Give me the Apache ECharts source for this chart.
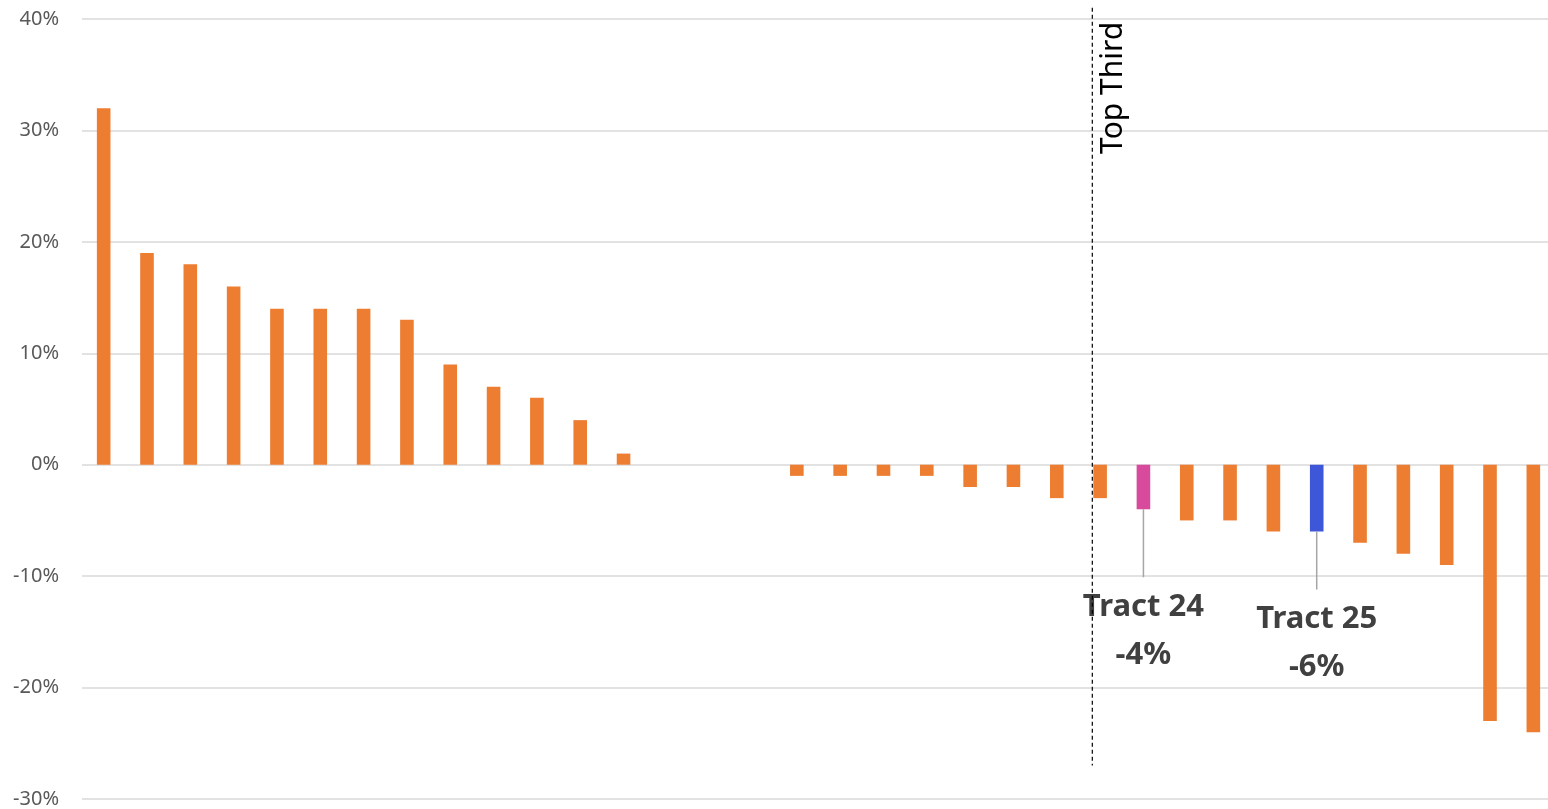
<!DOCTYPE html>
<html>
<head>
<meta charset="utf-8">
<script src="https://cdn.jsdelivr.net/npm/echarts@6/dist/echarts.min.js"></script>
<style>
  html, body { margin: 0; padding: 0; background: #ffffff; overflow: hidden; }
  #chart { width: 1555px; height: 809px; }
</style>
</head>
<body>
<div id="chart"></div>
<script>
// Change by tract, sorted from largest gain to largest loss
const categories = ['1','2','3','4','5','6','7','8','9','10','11','12','13','14','15','16','17',
  '18','19','20','21','22','23','24','25','26','27','28','29','30','31','32','33','34'];
const values = [32, 19, 18, 16, 14, 14, 14, 13, 9, 7, 6, 4, 1, null, null, null,
  -1, -1, -1, -1, -2, -2, -3, -3, -4, -5, -5, -6, -6, -7, -8, -9, -23, -24];

// Highlighted tracts: position in the ranking, name, colour, callout end (%)
const calloutIndex = [24, 28];
const calloutNames = ['Tract 24', 'Tract 25'];
const calloutColors = ['#D84A9C', '#3D57D8'];
const calloutEnds = [-10.1, -11.2];

// Cut-off line for the top third, in category units, and its extent (%)
const cutoffPos = 22.82;
const cutoffTop = 41;
const cutoffBottom = -27;
const cutoffLabel = 'Top Third';

const yTicks = { min: -30, max: 40, interval: 10 };

const barColor = '#ED7D31';
const font = '"Noto Sans", "Open Sans", sans-serif';

const barData = values.map((v, i) => {
  const k = calloutIndex.indexOf(i);
  return k >= 0 ? { value: v, itemStyle: { color: calloutColors[k] } } : v;
});

const connectorSeries = calloutIndex.map((idx, k) => ({
  type: 'line',
  xAxisIndex: 1,
  data: [[idx, values[idx]], [idx, calloutEnds[k]]],
  symbol: 'none',
  lineStyle: { color: '#A6A6A6', width: 1.5 },
  silent: true,
  z: 3
}));

const calloutLabels = {
  type: 'scatter',
  xAxisIndex: 1,
  symbolSize: 1,
  itemStyle: { color: 'transparent', opacity: 1 },
  data: calloutIndex.map((idx, k) => ({
    value: [idx, calloutEnds[k]],
    name: calloutNames[k],
    label: {
      show: true,
      position: 'bottom',
      distance: 5,
      formatter: calloutNames[k] + '\n' + values[idx] + '%',
      fontFamily: font,
      fontWeight: 'bold',
      fontSize: 31,
      lineHeight: 48,
      color: '#404040',
      opacity: 1,
      align: 'center'
    }
  })),
  silent: true,
  z: 4
};

const chart = echarts.init(document.getElementById('chart'), null, { renderer: 'canvas' });

chart.setOption({
  animation: false,
  backgroundColor: '#ffffff',
  grid: { left: 82, top: 19, width: 1473, height: 781, containLabel: false },
  xAxis: [
    {
      type: 'category',
      data: categories,
      axisLine: { show: false },
      axisTick: { show: false },
      axisLabel: { show: false },
      splitLine: { show: false }
    },
    {
      type: 'value',
      min: -0.5,
      max: categories.length - 0.5,
      show: false
    }
  ],
  yAxis: {
    type: 'value',
    min: yTicks.min,
    max: yTicks.max,
    interval: yTicks.interval,
    axisLine: { show: false },
    axisTick: { show: false },
    axisLabel: {
      formatter: '{value}%',
      color: '#595959',
      fontFamily: font,
      fontSize: 20,
      margin: 23
    },
    splitLine: { lineStyle: { color: '#D9D9D9', width: 1.5 } }
  },
  series: [
    {
      type: 'bar',
      data: barData,
      barWidth: 13.6,
      itemStyle: { color: barColor },
      z: 2
    },
    ...connectorSeries,
    calloutLabels,
    {
      type: 'line',
      xAxisIndex: 1,
      data: [[cutoffPos, cutoffTop], [cutoffPos, cutoffBottom]],
      symbol: 'none',
      clip: false,
      lineStyle: { color: '#000000', width: 1.2, type: [4, 3] },
      silent: true,
      z: 5
    }
  ]
});

// Rotated caption beside the cut-off line
const cutoffTopPx = chart.convertToPixel({ xAxisIndex: 1, yAxisIndex: 0 }, [cutoffPos, cutoffTop]);
chart.setOption({
  graphic: [{
    type: 'text',
    x: cutoffTopPx[0] + 21,
    y: cutoffTopPx[1] + 80,
    rotation: Math.PI / 2,
    style: {
      text: cutoffLabel,
      fontFamily: font,
      fontSize: 30,
      fill: '#000000',
      align: 'center',
      verticalAlign: 'middle'
    },
    silent: true
  }]
});
</script>
</body>
</html>
